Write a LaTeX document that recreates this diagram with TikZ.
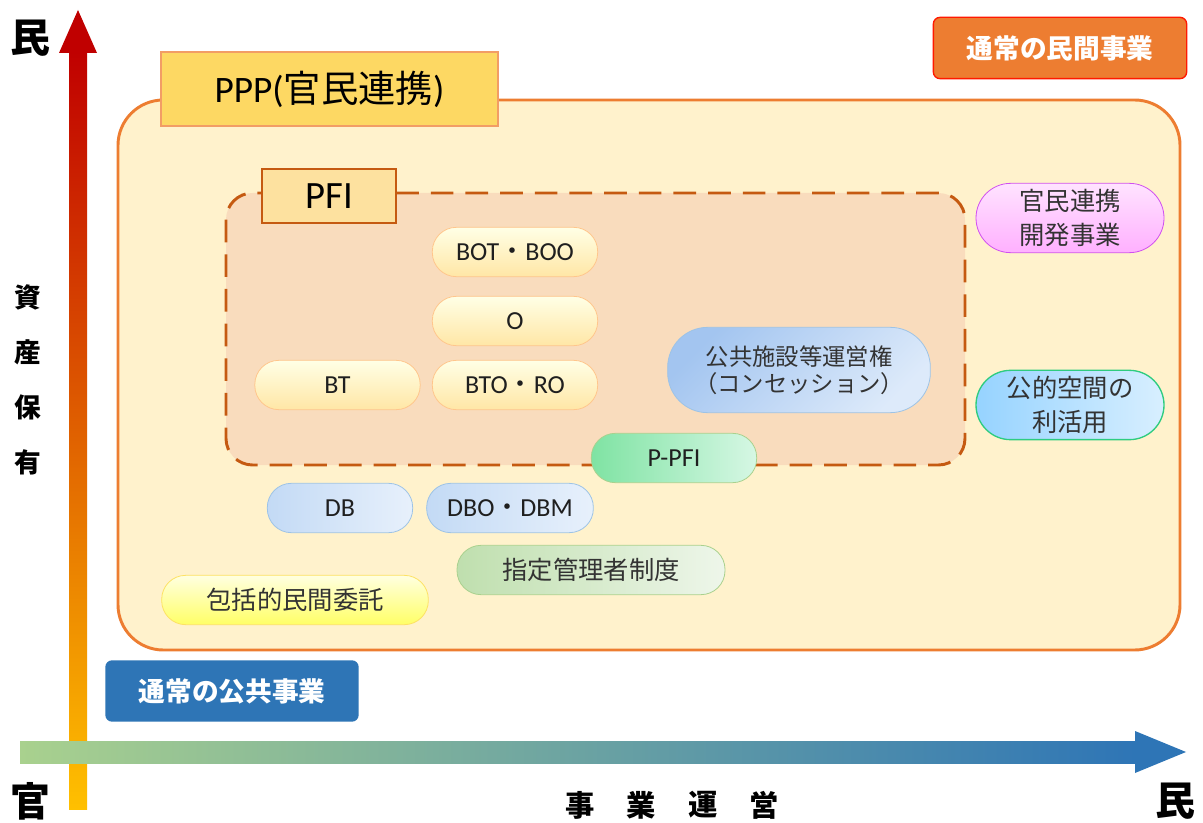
\documentclass[tikz,border=0pt]{standalone}
\usepackage{fontspec}
\setmainfont{Carlito}
\newfontfamily\cjk{Noto Sans CJK JP}

\definecolor{axisred}{HTML}{C00000}
\definecolor{axisorange}{HTML}{EE6A1E}
\definecolor{axisyellow}{HTML}{FFC000}
\definecolor{axisgreen}{HTML}{A9D18E}
\definecolor{axismid}{HTML}{93ACD6}
\definecolor{axisblue}{HTML}{2E75B6}
\definecolor{pppfill}{HTML}{FFF2CC}
\definecolor{pppline}{HTML}{ED7D31}
\definecolor{pfifill}{HTML}{F9DCBD}
\definecolor{pfiline}{HTML}{C55A11}
\definecolor{textgray}{HTML}{333333}
\definecolor{bluedark}{HTML}{A3C5F0}
\definecolor{bluelight}{HTML}{DDEAFA}
\definecolor{bluemid}{HTML}{C3DAF5}
\definecolor{blueline}{HTML}{9DC3E6}
\definecolor{greendark}{HTML}{BFDFAE}
\definecolor{greenlight}{HTML}{EEF6EA}
\definecolor{greenline}{HTML}{A9D18E}
\definecolor{mintdark}{HTML}{7FE3A3}
\definecolor{mintlight}{HTML}{D6F7E4}
\definecolor{skydark}{HTML}{96D3FF}
\definecolor{skylight}{HTML}{D8EFFF}
\definecolor{skyline}{HTML}{2ECC80}
\definecolor{pinkdark}{HTML}{FFB0FF}
\definecolor{pinklight}{HTML}{FFE3FF}
\definecolor{pinkline}{HTML}{D050F0}

\tikzset{%
  every pill/.style={
    rectangle,
    draw,
    line width=0.6pt,
    rounded corners=18pt,
    minimum height=37pt,
    inner sep=0pt,
    align=center,
    text=textgray
  },
  latin/.style={font=\fontsize{19.5}{21}\selectfont, text=black!88},
  kanji/.style={font=\cjk\fontsize{19}{25}\selectfont},
  pill yellow/.style={draw=orange!45, top color=yellow!10, bottom color=yellow!45!orange!35},
  pill blue/.style={draw=blueline, left color=bluedark, right color=bluelight},
  pill pale/.style={draw=blueline, left color=bluemid, right color=bluelight!70!white},
  pill green/.style={draw=greenline, left color=greendark, right color=greenlight},
  pill mint/.style={draw=greenline, left color=mintdark, right color=mintlight},
  pill pink/.style={draw=pinkline, bottom color=pinkdark, top color=pinklight},
  pill sky/.style={draw=skyline, left color=skydark, right color=skylight},
  pill lemon/.style={draw=yellow!70!orange!60, bottom color=yellow!60, top color=yellow!12},
  plain box/.style={
    rectangle,
    rounded corners=5pt,
    minimum width=190pt,
    minimum height=46pt,
    text=white,
    font=\cjk\bfseries\fontsize{20}{22}\selectfont
  },
  axis label/.style={font=\cjk\bfseries\fontsize{20}{20}\selectfont, text=black},
  title box/.style={rectangle, draw, line width=1.5pt, inner sep=0pt}
}

\begin{document}
\begin{tikzpicture}[x=0.75pt, y=-0.75pt]
\useasboundingbox (0,0) rectangle (1203,823);
\fill[white] (0,0) rectangle (1203,823);

% axes
\shade[top color=axisred, middle color=axisorange, bottom color=axisyellow]
  (69,52) rectangle (87,809);
\fill[axisred] (59,53) -- (78,10) -- (97,53) -- cycle;
\shade[left color=axisgreen, middle color=axismid, right color=axisblue]
  (20,741) rectangle (1136,763);
\fill[axisblue] (1135,731) -- (1186,752) -- (1135,773) -- cycle;

\node [axis label, font=\cjk\bfseries\fontsize{30}{30}\selectfont] (min-top) at (30,38) {民};
\node [axis label, font=\cjk\bfseries\fontsize{30}{30}\selectfont] (kan) at (30,801) {官};
\node [axis label, font=\cjk\bfseries\fontsize{30}{30}\selectfont] (min-right) at (1175,801) {民};

\foreach \c [count=\i from 0] in {資,産,保,有}
  \node [axis label] (asset-\i) at (28,297+\i*55) {\c};

\foreach \c [count=\i from 0] in {事,業,運,営}
  \node [axis label, font=\cjk\bfseries\fontsize{22}{22}\selectfont] (ops-\i) at (580+\i*61.5,805) {\c};

% PPP frame
\draw [draw=pppline, fill=pppfill, line width=2.2pt, rounded corners=34pt]
  (118,100) rectangle (1180,650);
\node [title box, draw=pppline!75, fill=yellow!55!orange!60, minimum width=253pt, minimum height=56pt,
  font=\fontsize{28}{30}\selectfont] (ppp) at (329.5,89) {PPP({\cjk 官民連携})};

% PFI frame
\draw [draw=pfiline, fill=pfifill, line width=2.2pt, dash pattern=on 17pt off 9pt, rounded corners=20pt]
  (226,193) rectangle (965,465);
\node [title box, draw=pfiline, fill=yellow!40!orange!35, minimum width=101pt, minimum height=40pt,
  font=\fontsize{29}{30}\selectfont] (pfi) at (329,196) {PFI};

% PFI schemes
\foreach \m/\l/\x/\y in {bot/{BOT{\cjk ・}BOO}/515/252, o/O/515/321, bt/BT/337.5/385, bto/{BTO{\cjk ・}RO}/515/385}
  \node [every pill, pill yellow, latin, minimum width=124pt] (\m) at (\x,\y) {\l};

\node [every pill, pill blue, kanji, rounded corners=30pt, minimum width=197pt, minimum height=64pt,
  shading angle=45, font=\cjk\fontsize{17.5}{20}\selectfont] (conc) at (799,370)
  {公共施設等運営権\\（コンセッション）};

\node [every pill, pill mint, latin, minimum width=124pt] (ppfi) at (674,458) {P-PFI};

% outside PFI
\node [every pill, pill pale, latin, minimum width=109pt] (db) at (340,508) {DB};
\node [every pill, pill pale, latin, minimum width=125pt] (dbo) at (510,508) {DBO{\cjk ・}DBM};
\node [every pill, pill green, kanji, minimum width=201pt] (shitei) at (591,570) {指定管理者制度};
\node [every pill, pill lemon, kanji, minimum width=200pt] (houkatsu) at (295,600) {包括的民間委託};

\node [every pill, pill pink, kanji, rounded corners=26pt, minimum width=141pt, minimum height=52pt]
  (kaihatsu) at (1070,218) {官民連携\\開発事業};
\node [every pill, pill sky, kanji, rounded corners=26pt, minimum width=141pt, minimum height=52pt,
  line width=1pt] (koteki) at (1070,405) {公的空間の\\利活用};

% ordinary projects
\node [plain box, fill=pppline, draw=red!80!orange, line width=1pt] (minkan) at (1060,48) {通常の民間事業};
\node [plain box, fill=axisblue] (kokyo) at (232,691) {通常の公共事業};

\end{tikzpicture}
\end{document}
